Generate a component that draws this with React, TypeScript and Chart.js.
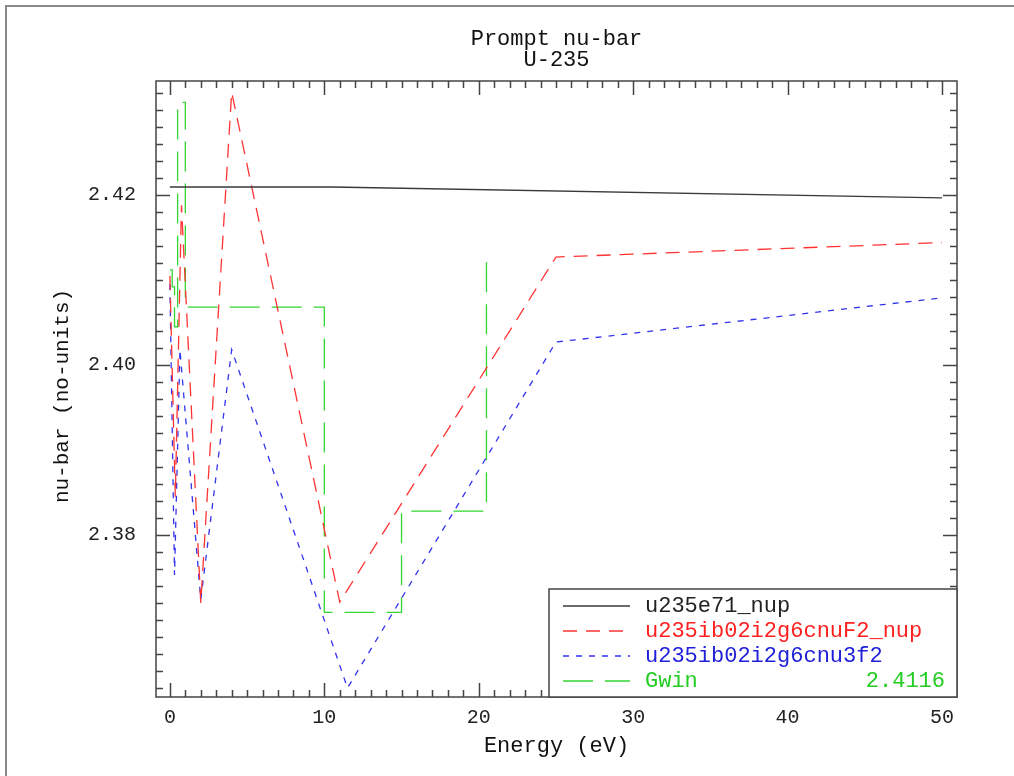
import React, { useEffect, useRef } from 'react';
import { Chart, registerables } from 'chart.js';

Chart.register(...registerables);

// ---------- data ----------
const titleLines = ['Prompt nu-bar', 'U-235'];
const xAxisTitle = 'Energy (eV)';
const yAxisTitle = 'nu-bar (no-units)';

const xTickValues = [0, 10, 20, 30, 40, 50];
const yTickValues = [2.38, 2.40, 2.42];

const seriesLabels = ['u235e71_nup', 'u235ib02i2g6cnuF2_nup', 'u235ib02i2g6cnu3f2', 'Gwin'];
const gwinAverage = '2.4116';

const blackEnergy = [0, 10.5, 50];
const blackNu = [2.42094, 2.42094, 2.41965];

const redEnergy = [0, 0.35, 0.75, 2.0, 4.0, 11.0, 25, 50];
const redNu = [2.4105, 2.3845, 2.4188, 2.372, 2.4321, 2.3721, 2.4127, 2.4144];

const blueEnergy = [0, 0.3, 0.65, 2.0, 4.0, 11.5, 25, 50];
const blueNu = [2.4095, 2.3753, 2.4018, 2.3724, 2.4018, 2.362, 2.4027, 2.4079];

const greenEnergy = [0, 0.15, 0.3, 0.5, 1.0, 10, 15, 20.5];
const greenNu = [2.4112, 2.4092, 2.4045, 2.4309, 2.4068, 2.3709, 2.3828, 2.4127];

// ---------- styles ----------
const COLORS = ['#3a3a3a', '#ff3333', '#3333ee', '#33d633'];
const TEXT_COLORS = ['#222222', '#ff2020', '#2020d8', '#22cc22'];
const DASHES: number[][] = [[], [14, 9], [6, 7], [30, 12]];
const MONO = "'Liberation Mono', 'DejaVu Sans Mono', monospace";

const toPts = (xs: number[], ys: number[]) => xs.map((x, i) => ({ x, y: ys[i] }));

const decorPlugin = {
  id: 'decor',
  beforeDraw(chart: any) {
    const { ctx } = chart;
    ctx.save();
    ctx.fillStyle = '#ffffff';
    ctx.fillRect(0, 0, chart.width, chart.height);
    ctx.strokeStyle = '#8a8a8a';
    ctx.lineWidth = 2;
    ctx.beginPath();
    ctx.moveTo(6, chart.height);
    ctx.lineTo(6, 6);
    ctx.lineTo(chart.width, 6);
    ctx.stroke();
    ctx.restore();
  },
  afterDatasetsDraw(chart: any) {
    const { ctx, chartArea: a, scales } = chart;
    const xs = scales.x;
    const ys = scales.y;
    ctx.save();
    ctx.strokeStyle = '#444444';
    ctx.lineWidth = 1.5;
    ctx.strokeRect(a.left, a.top, a.right - a.left, a.bottom - a.top);
    ctx.beginPath();
    for (let e = Math.ceil(xs.min); e <= Math.floor(xs.max); e++) {
      const px = Math.round(xs.getPixelForValue(e)) + 0.5;
      const len = e % 10 === 0 ? 14 : 7;
      ctx.moveTo(px, a.bottom);
      ctx.lineTo(px, a.bottom - len);
      ctx.moveTo(px, a.top);
      ctx.lineTo(px, a.top + len);
    }
    const k0 = Math.ceil(ys.min / 0.002 - 1e-6);
    const k1 = Math.floor(ys.max / 0.002 + 1e-6);
    for (let k = k0; k <= k1; k++) {
      const py = Math.round(ys.getPixelForValue(k * 0.002)) + 0.5;
      const len = k % 10 === 0 ? 14 : 7;
      ctx.moveTo(a.left, py);
      ctx.lineTo(a.left + len, py);
      ctx.moveTo(a.right, py);
      ctx.lineTo(a.right - len, py);
    }
    ctx.stroke();
    ctx.restore();
  },
  afterDraw(chart: any) {
    const { ctx, chartArea: a } = chart;
    const cx = (a.left + a.right) / 2;
    ctx.save();
    // title
    ctx.fillStyle = '#111111';
    ctx.textAlign = 'center';
    ctx.textBaseline = 'alphabetic';
    ctx.font = `22px ${MONO}`;
    ctx.fillText(titleLines[0], cx, 45);
    ctx.fillText(titleLines[1], cx, 66);
    // axis titles
    ctx.textBaseline = 'middle';
    ctx.font = `22px ${MONO}`;
    ctx.fillText(xAxisTitle, cx, 746);
    ctx.save();
    ctx.translate(62, (a.top + a.bottom) / 2 + 7);
    ctx.rotate(-Math.PI / 2);
    ctx.font = `21px ${MONO}`;
    ctx.fillText(yAxisTitle, 0, 0);
    ctx.restore();
    // legend
    const lw = 408;
    const lh = 108;
    const lx = a.right - lw;
    const ly = a.bottom - lh;
    ctx.fillStyle = '#ffffff';
    ctx.fillRect(lx, ly, lw, lh);
    ctx.strokeStyle = '#444444';
    ctx.lineWidth = 1.5;
    ctx.strokeRect(lx, ly, lw, lh);
    ctx.font = `22px ${MONO}`;
    ctx.textBaseline = 'middle';
    for (let i = 0; i < seriesLabels.length; i++) {
      const ry = ly + 17 + i * 25;
      ctx.strokeStyle = COLORS[i];
      ctx.lineWidth = 1.3;
      ctx.setLineDash(DASHES[i]);
      ctx.beginPath();
      ctx.moveTo(lx + 14, ry);
      ctx.lineTo(lx + 81, ry);
      ctx.stroke();
      ctx.setLineDash([]);
      ctx.fillStyle = TEXT_COLORS[i];
      ctx.textAlign = 'left';
      ctx.fillText(seriesLabels[i], lx + 96, ry);
    }
    ctx.textAlign = 'right';
    ctx.fillStyle = TEXT_COLORS[3];
    ctx.fillText(gwinAverage, a.right - 12, ly + 17 + 3 * 25);
    ctx.restore();
  },
};

export default function App() {
  const ref = useRef<HTMLCanvasElement | null>(null);
  useEffect(() => {
    if (!ref.current) return;
    const seriesData = [
      toPts(blackEnergy, blackNu),
      toPts(redEnergy, redNu),
      toPts(blueEnergy, blueNu),
      toPts(greenEnergy, greenNu),
    ];
    const chart = new Chart(ref.current, {
      type: 'line',
      data: {
        datasets: seriesData.map((d, i) => ({
          label: seriesLabels[i],
          data: d,
          borderColor: COLORS[i],
          borderWidth: 1.3,
          borderDash: DASHES[i],
          pointRadius: 0,
          fill: false,
          tension: 0,
          stepped: i === 3 ? 'before' : false,
        })),
      },
      options: {
        animation: false,
        responsive: false,
        devicePixelRatio: 1,
        layout: { padding: { left: 0, right: 57, top: 81, bottom: 0 } },
        plugins: {
          legend: { display: false },
          title: { display: false },
          tooltip: { enabled: false },
        },
        scales: {
          x: {
            type: 'linear',
            min: -0.9,
            max: 50.97,
            grid: { display: false },
            border: { display: false },
            afterBuildTicks: (s: any) => {
              s.ticks = xTickValues.map((v) => ({ value: v }));
            },
            afterFit: (s: any) => {
              s.height = 79;
            },
            ticks: {
              autoSkip: false,
              maxRotation: 0,
              padding: 1,
              color: '#222222',
              font: { family: MONO, size: 20 },
              callback: (v: any) => String(v),
            },
          },
          y: {
            type: 'linear',
            min: 2.36094,
            max: 2.43341,
            grid: { display: false },
            border: { display: false },
            afterBuildTicks: (s: any) => {
              s.ticks = yTickValues.map((v) => ({ value: v }));
            },
            afterFit: (s: any) => {
              s.width = 156;
            },
            ticks: {
              autoSkip: false,
              padding: 12,
              color: '#222222',
              font: { family: MONO, size: 20 },
              callback: (v: any) => Number(v).toFixed(2),
            },
          },
        },
      },
      plugins: [decorPlugin],
    } as any);
    return () => chart.destroy();
  }, []);
  return (
    <div style={{ position: 'absolute', left: 0, top: 0, width: 1014, height: 776 }}>
      <canvas ref={ref} width={1014} height={776} style={{ display: 'block', width: 1014, height: 776 }} />
    </div>
  );
}
